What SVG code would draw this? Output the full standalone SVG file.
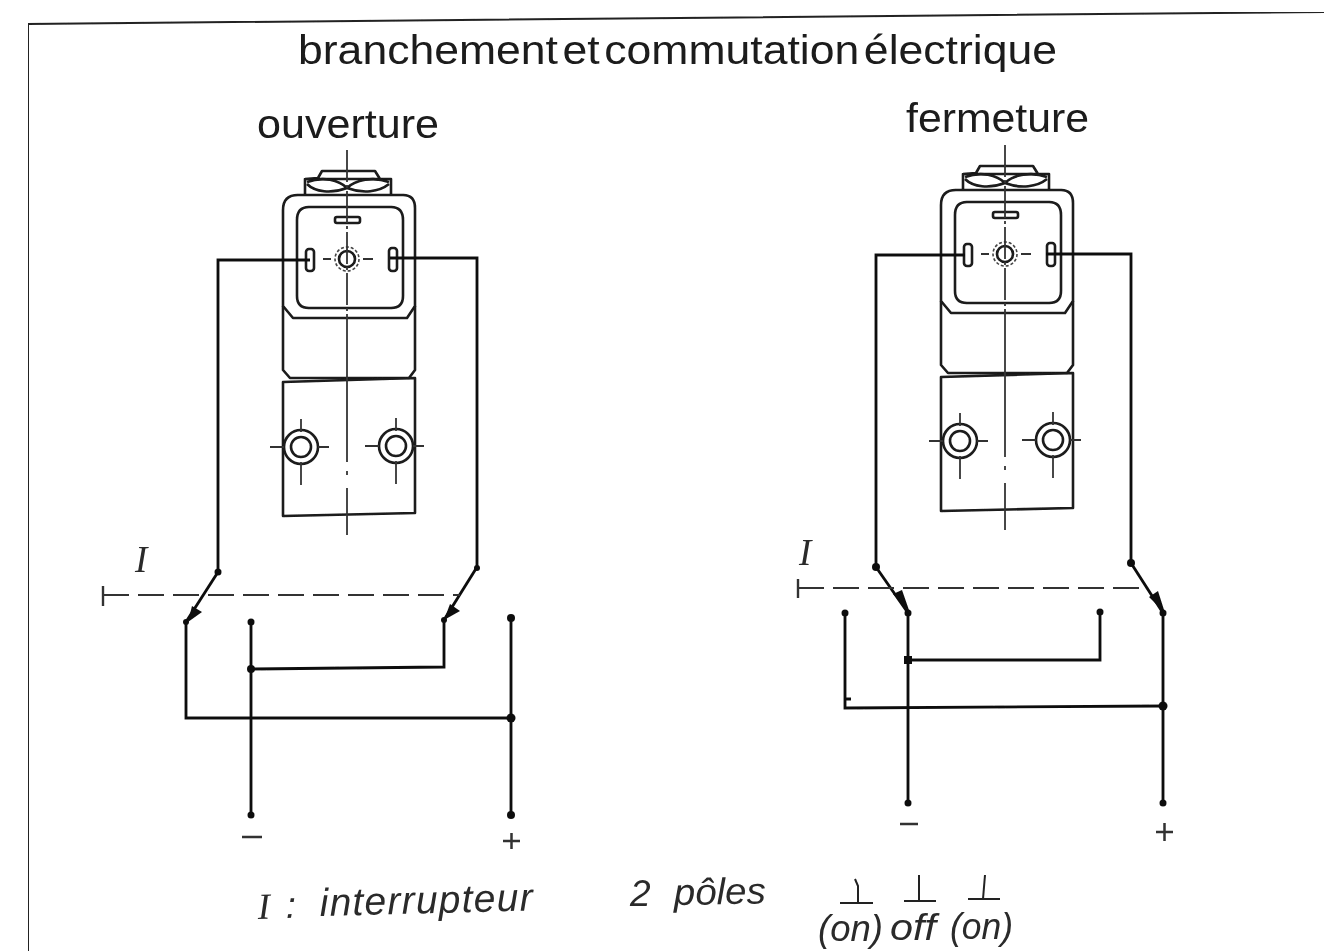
<svg xmlns="http://www.w3.org/2000/svg" width="1324" height="951" viewBox="0 0 1324 951">
<defs>
<style>
.l{fill:none;stroke:#1a1a1a;stroke-width:2.6;stroke-linejoin:round}
.w{fill:none;stroke:#111;stroke-width:2.8;stroke-linejoin:miter}
.x{fill:none;stroke:#333;stroke-width:1.8}
.d{fill:none;stroke:#333;stroke-width:2.2;stroke-dasharray:26 9}
.t{font-family:"Liberation Sans",Arial,sans-serif;font-size:40px;fill:#1a1a1a}
.i{font-family:"Liberation Sans",Arial,sans-serif;font-style:italic;font-size:37px;fill:#2a2a2a}
.b{fill:#111}
</style>
<filter id="scan" x="0" y="0" width="100%" height="100%"><feGaussianBlur stdDeviation="0.6"/></filter>
<g id="v">
<path class="l" d="M22 45V29H108V45M22 29L35 28L39 21H92L97 29"/>
<path class="l" d="M24 34C32 42 48 44 64 38C80 44 96 42 106 34M24 32C40 26 56 30 64 38C72 30 90 26 106 32"/>
<path class="l" d="M0 60Q0 45 15 45H120Q132 45 132 58V156L124 168H10L0 156Z"/>
<path class="l" d="M14 70Q14 57 26 57H108Q120 57 120 70V146Q120 158 108 158H26Q14 158 14 146Z"/>
<rect class="l" x="52" y="67" width="25" height="6" rx="2"/>
<rect class="l" x="23" y="99" width="8" height="22" rx="3"/>
<rect class="l" x="106" y="98" width="8" height="23" rx="3"/>
<circle class="l" cx="64" cy="109" r="8"/>
<circle cx="64" cy="109" r="12" fill="none" stroke="#444" stroke-width="1.600" stroke-dasharray="3 2"/>
<path class="x" d="M40 109H48M80 109H90"/>
<path class="x" d="M64 0V172" stroke-dasharray="32 3 3 3"/>
<path class="l" d="M0 156V220L7 228H126L132 220V156"/>
<path class="l" d="M0 232L132 228V363L0 366Z"/>
<path class="x" d="M64 172V385" stroke-dasharray="140 9 4 13"/>
</g>
<g id="s">
<circle class="l" cx="17" cy="0" r="17"/><circle class="l" cx="17" cy="0" r="10"/>
<path class="x" d="M17 -28V-15M17 15V38M-14 0H0M34 0H45"/>
</g>
</defs>
<rect width="1324" height="951" fill="#fff"/>
<g filter="url(#scan)">
<g id="frame"><path d="M28 951V24L1324 12" fill="none" stroke="#222" stroke-width="2"/></g>
<text class="t" x="298" y="64" textLength="759" lengthAdjust="spacingAndGlyphs" style="word-spacing:-7px">branchement et commutation électrique</text>
<text class="t" x="257" y="138" textLength="182" lengthAdjust="spacingAndGlyphs">ouverture</text>
<text class="t" x="906" y="132" textLength="183" lengthAdjust="spacingAndGlyphs">fermeture</text>

<g id="valve-ouverture">
<use href="#v" x="283" y="150"/>
<use href="#s" x="284" y="447"/>
<use href="#s" x="379" y="446"/>
</g>
<g id="valve-fermeture">
<use href="#v" x="941" y="145"/>
<use href="#s" x="943" y="441"/>
<use href="#s" x="1036" y="440"/>
</g>

<g id="connectors">
<path class="w" d="M310 260H218V572L186 622V718L511 718"/>
<path class="w" d="M390 258H477V567L444 620V667L251 669"/>
<path class="w" d="M251 622V815M511 618V815"/>
<path class="d" d="M103 595H460"/><path class="x" d="M103 586V606" style="stroke-width:2.400"/>
<path class="w" d="M965 255H876V567L908 613V803"/>
<path class="w" d="M1046 254H1131V563L1163 613V803"/>
<path class="w" d="M908 660H1100V612M845 613V708L1163 706M845 699H851"/>
<path class="d" d="M798 588H1143"/><path class="x" d="M798 579V598" style="stroke-width:2.400"/>
<g class="b">
<circle cx="218" cy="572" r="3.500"/><circle cx="477" cy="568" r="3"/><circle cx="186" cy="622" r="3"/><circle cx="444" cy="620" r="3"/>
<circle cx="251" cy="622" r="3.500"/><circle cx="511" cy="618" r="4"/><circle cx="251" cy="669" r="4"/><circle cx="511" cy="718" r="4.500"/>
<circle cx="251" cy="815" r="3.500"/><circle cx="511" cy="815" r="4"/>
<path d="M192 606L202 612L188 622ZM450 604L460 611L444 620Z"/>
<circle cx="876" cy="567" r="4"/><circle cx="1131" cy="563" r="4"/><circle cx="908" cy="613" r="3.500"/><circle cx="1163" cy="613" r="3.500"/>
<circle cx="845" cy="613" r="3.500"/><circle cx="1100" cy="612" r="3.500"/><rect x="904" y="656" width="8" height="8"/><circle cx="1163" cy="706" r="4.500"/>
<circle cx="908" cy="803" r="3.500"/><circle cx="1163" cy="803" r="3.500"/>
<path d="M893 594L902 590L910 613ZM1149 597L1158 591L1165 613Z"/>
</g>
</g>

<g id="labels">
<text class="i" x="135" y="572" style="font-family:'Liberation Serif',serif">I</text>
<text class="i" x="799" y="565" style="font-family:'Liberation Serif',serif">I</text>
<path d="M242 837H262M900 824H918M503 841H520M511.500 833V849M1156 832H1173M1164.500 823V841" fill="none" stroke="#333" stroke-width="2.500"/>
<text class="i" x="258" y="919" transform="rotate(-1.500 258 919)" style="font-family:'Liberation Serif',serif">I</text>
<text class="i" x="286" y="918" transform="rotate(-1.500 286 918)">:</text>
<text class="i" x="320" y="916" textLength="213" lengthAdjust="spacing" transform="rotate(-1.500 320 916)" style="font-size:39px">interrupteur</text>
<text class="i" x="630" y="906">2</text>
<text class="i" x="674" y="905" textLength="92" lengthAdjust="spacingAndGlyphs" transform="rotate(-1 674 905)">pôles</text>
<path d="M840 903H873M855 879L858 886L858 903M904 901H936M919 875V901M968 899H1000M985 875L983 899" fill="none" stroke="#222" stroke-width="2"/>
<text class="i" x="818" y="941" textLength="65" lengthAdjust="spacingAndGlyphs">(on)</text>
<text class="i" x="890" y="940" textLength="46" lengthAdjust="spacingAndGlyphs">off</text>
<text class="i" x="950" y="939" textLength="63" lengthAdjust="spacingAndGlyphs">(on)</text>
</g>
</g>
</svg>
